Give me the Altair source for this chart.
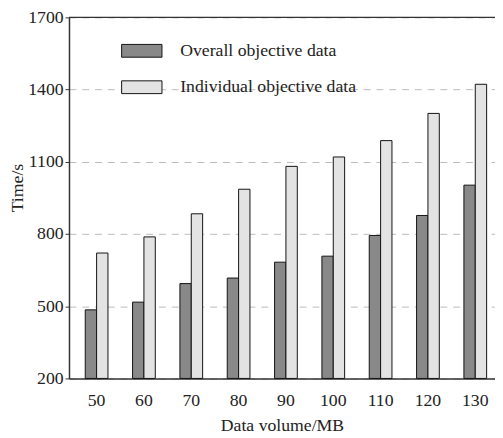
import altair as alt
import pandas as pd

volumes = ["50", "60", "70", "80", "90", "100", "110", "120", "130"]
overall = [485, 517, 594, 617, 683, 708, 794, 877, 1003]
individual = [721, 788, 884, 986, 1081, 1120, 1188, 1301, 1422]
series = ["Overall objective data", "Individual objective data"]
y_ticks = [200, 500, 800, 1100, 1400, 1700]

rows = []
for v, o, i in zip(volumes, overall, individual):
    rows.append({"volume": v, "series": series[0], "time": o})
    rows.append({"volume": v, "series": series[1], "time": i})
df = pd.DataFrame(rows)

FONT = "Liberation Serif"

bars = alt.Chart(df).mark_bar(stroke="#111", strokeWidth=1).encode(
    x=alt.X(
        "volume:N", sort=volumes, title="Data volume/MB",
        scale=alt.Scale(paddingInner=0.52, paddingOuter=0.26, align=0.66),
        axis=alt.Axis(labelAngle=0, ticks=False, labelPadding=14, titlePadding=7,
                      domainColor="#333", domainWidth=1.5, grid=False),
    ),
    xOffset=alt.XOffset("series:N", sort=series,
                        scale=alt.Scale(paddingInner=0, paddingOuter=0)),
    y=alt.Y(
        "time:Q", title="Time/s",
        scale=alt.Scale(domain=[200, 1700], nice=False, zero=False),
        axis=alt.Axis(values=y_ticks, format="d", tickSize=4, tickColor="#333",
                      labelPadding=2, titleX=-47, titleY=173, titleBaseline="alphabetic",
                      domainColor="#333", domainWidth=1.5,
                      grid=True, gridDash=[7, 6], gridColor="#bbbbbb", gridWidth=1),
    ),
    y2=alt.datum(200),
    color=alt.Color(
        "series:N", sort=series,
        scale=alt.Scale(domain=series, range=["#898989", "#e3e3e3"]),
        legend=alt.Legend(
            title=None, orient="none", legendX=53, legendY=13, padding=0,
            symbolType="M-1,-0.317H1V0.317H-1Z", symbolSize=1681,
            symbolStrokeColor="#111", symbolStrokeWidth=1, symbolOpacity=1,
            labelFont=FONT, labelFontSize=18, labelColor="#222", labelOffset=18,
            labelLimit=0, rowPadding=7,
        ),
    ),
)

top_border = alt.Chart(pd.DataFrame({"v": [1700]})).mark_rule(
    color="#333", strokeWidth=1.5
).encode(y=alt.Y("v:Q"))

chart = alt.layer(bars, top_border).properties(
    width=433, height=367,
    autosize=alt.AutoSizeParams(type="none"),
    padding={"left": 62, "top": 6, "right": 0, "bottom": 56},
).configure_view(stroke=None).configure_axis(
    labelFont=FONT, titleFont=FONT, labelFontSize=18, titleFontSize=18,
    labelColor="#222", titleColor="#222", titleFontWeight="normal",
)

chart.save("out.html", embed_options={"renderer": "svg", "actions": False})
